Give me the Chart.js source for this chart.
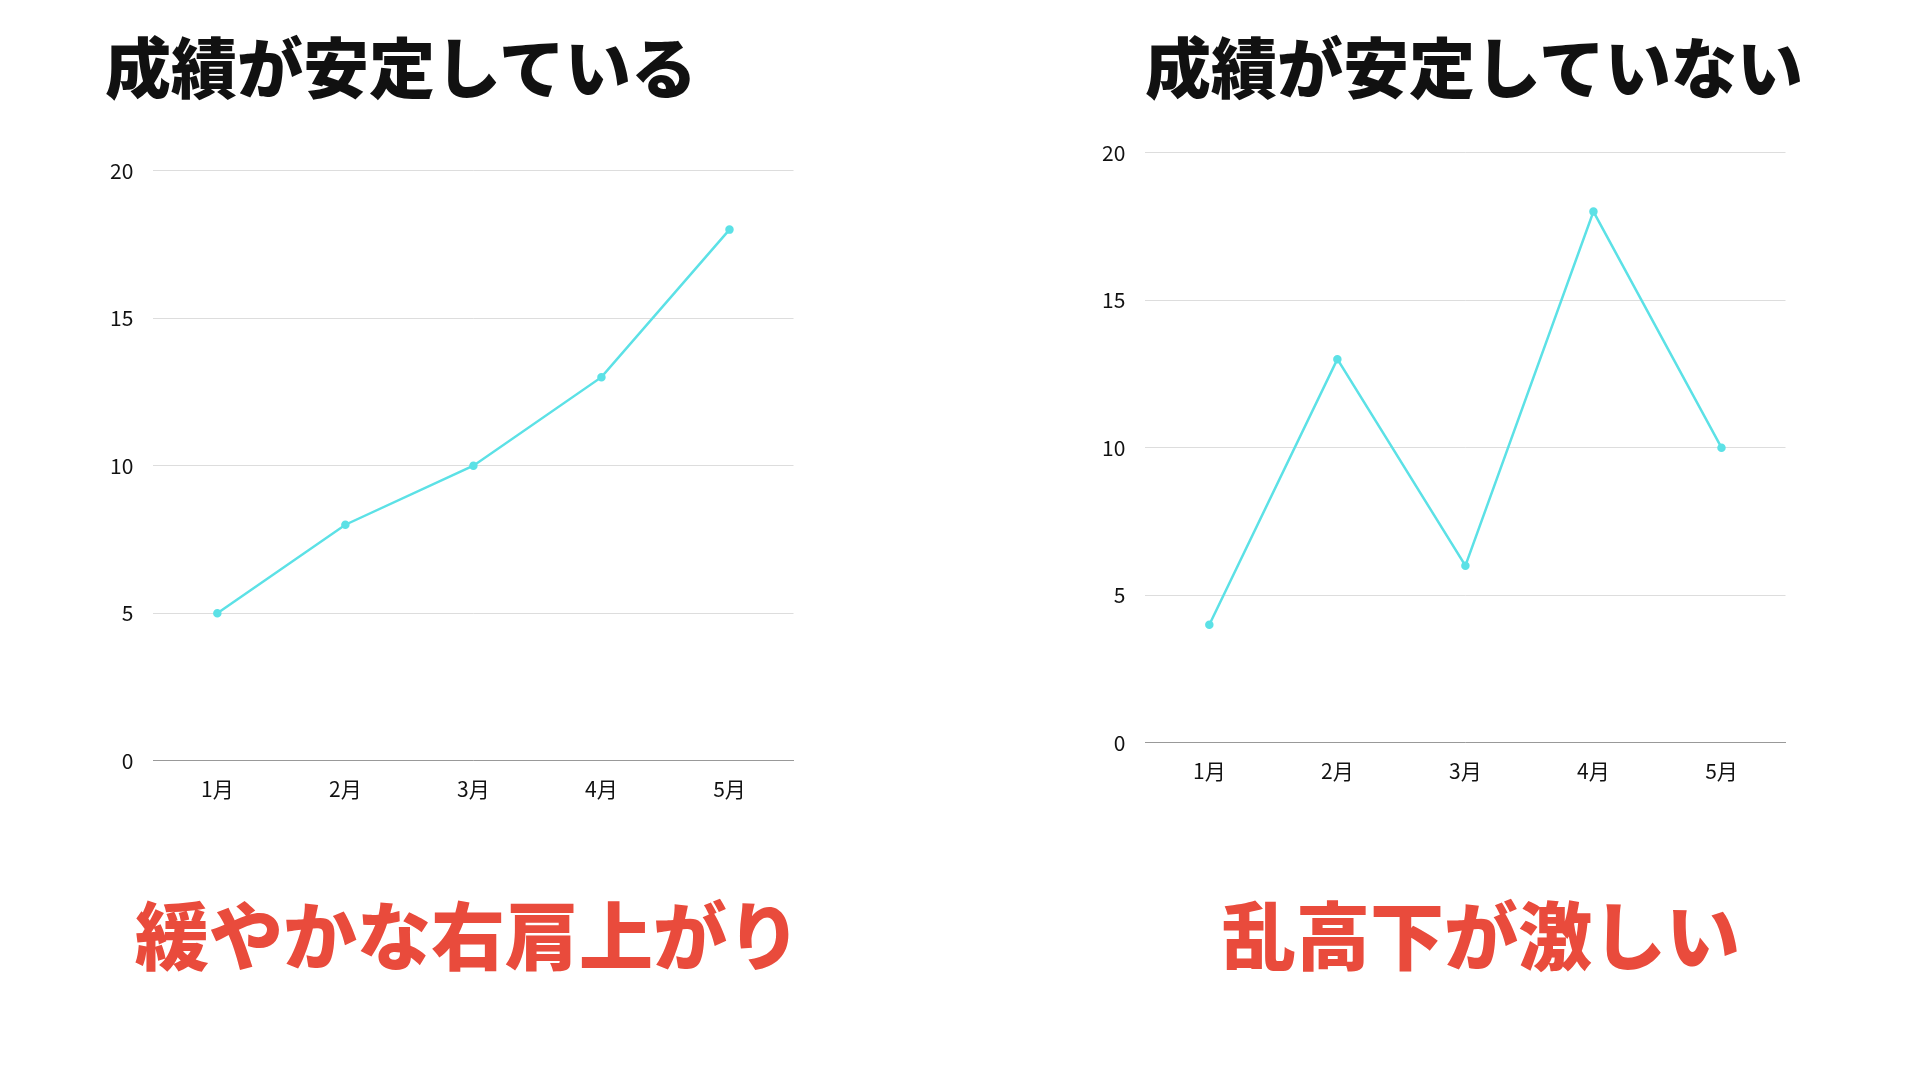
<!DOCTYPE html>
<html><head><meta charset="utf-8">
<script src="https://cdn.jsdelivr.net/npm/chart.js@4"></script>
<style>
body{margin:0;width:1920px;height:1080px;background:#fff;position:relative;font-family:"Noto Sans CJK JP",sans-serif;overflow:hidden}
.t{position:absolute;font-weight:900;white-space:nowrap}
.box{position:absolute}
</style></head><body>
<div class="t" style="left:105px;top:16px;font-size:66px;color:#111">成績が安定している</div>
<div class="t" style="left:1145px;top:16px;font-size:66px;color:#111">成績が安定していない</div>
<div class="t" style="left:135px;top:878px;font-size:74px;color:#e94b3c">緩やかな右肩上がり</div>
<div class="t" style="left:1222px;top:878px;font-size:74px;color:#e94b3c">乱高下が激しい</div>
<div class="box" style="left:90px;top:138px;width:710px;height:672px"><canvas id="c1"></canvas></div>
<div class="box" style="left:1082px;top:120px;width:710px;height:672px"><canvas id="c2"></canvas></div>
<script>
const months=["1月","2月","3月","4月","5月"];
const stableValues=[5,8,10,13,18];
const unstableValues=[4,13,6,18,10];
const yTicks=[0,5,10,15,20];
function make(id,data){
 new Chart(document.getElementById(id),{type:'line',
  data:{labels:months,datasets:[{data:data,borderColor:'#5ce1e6',backgroundColor:'#5ce1e6',borderWidth:2.5,pointRadius:3,tension:0}]},
  options:{responsive:true,maintainAspectRatio:false,animation:false,
   plugins:{legend:{display:false},tooltip:{enabled:false}},
   layout:{padding:{top:10,right:5}},
   scales:{
    x:{offset:true,grid:{display:false},border:{color:'#999'},ticks:{color:'#111',font:{size:21,family:'"Noto Sans CJK JP"'},padding:8}},
    y:{min:0,max:20,afterBuildTicks:a=>{a.ticks=yTicks.map(v=>({value:v}))},grid:{color:'#ddd',drawTicks:false},border:{display:false},ticks:{color:'#111',font:{size:21,family:'"Noto Sans CJK JP"'},padding:20}}
   }}});
}
make('c1',stableValues);make('c2',unstableValues);
</script></body></html>
